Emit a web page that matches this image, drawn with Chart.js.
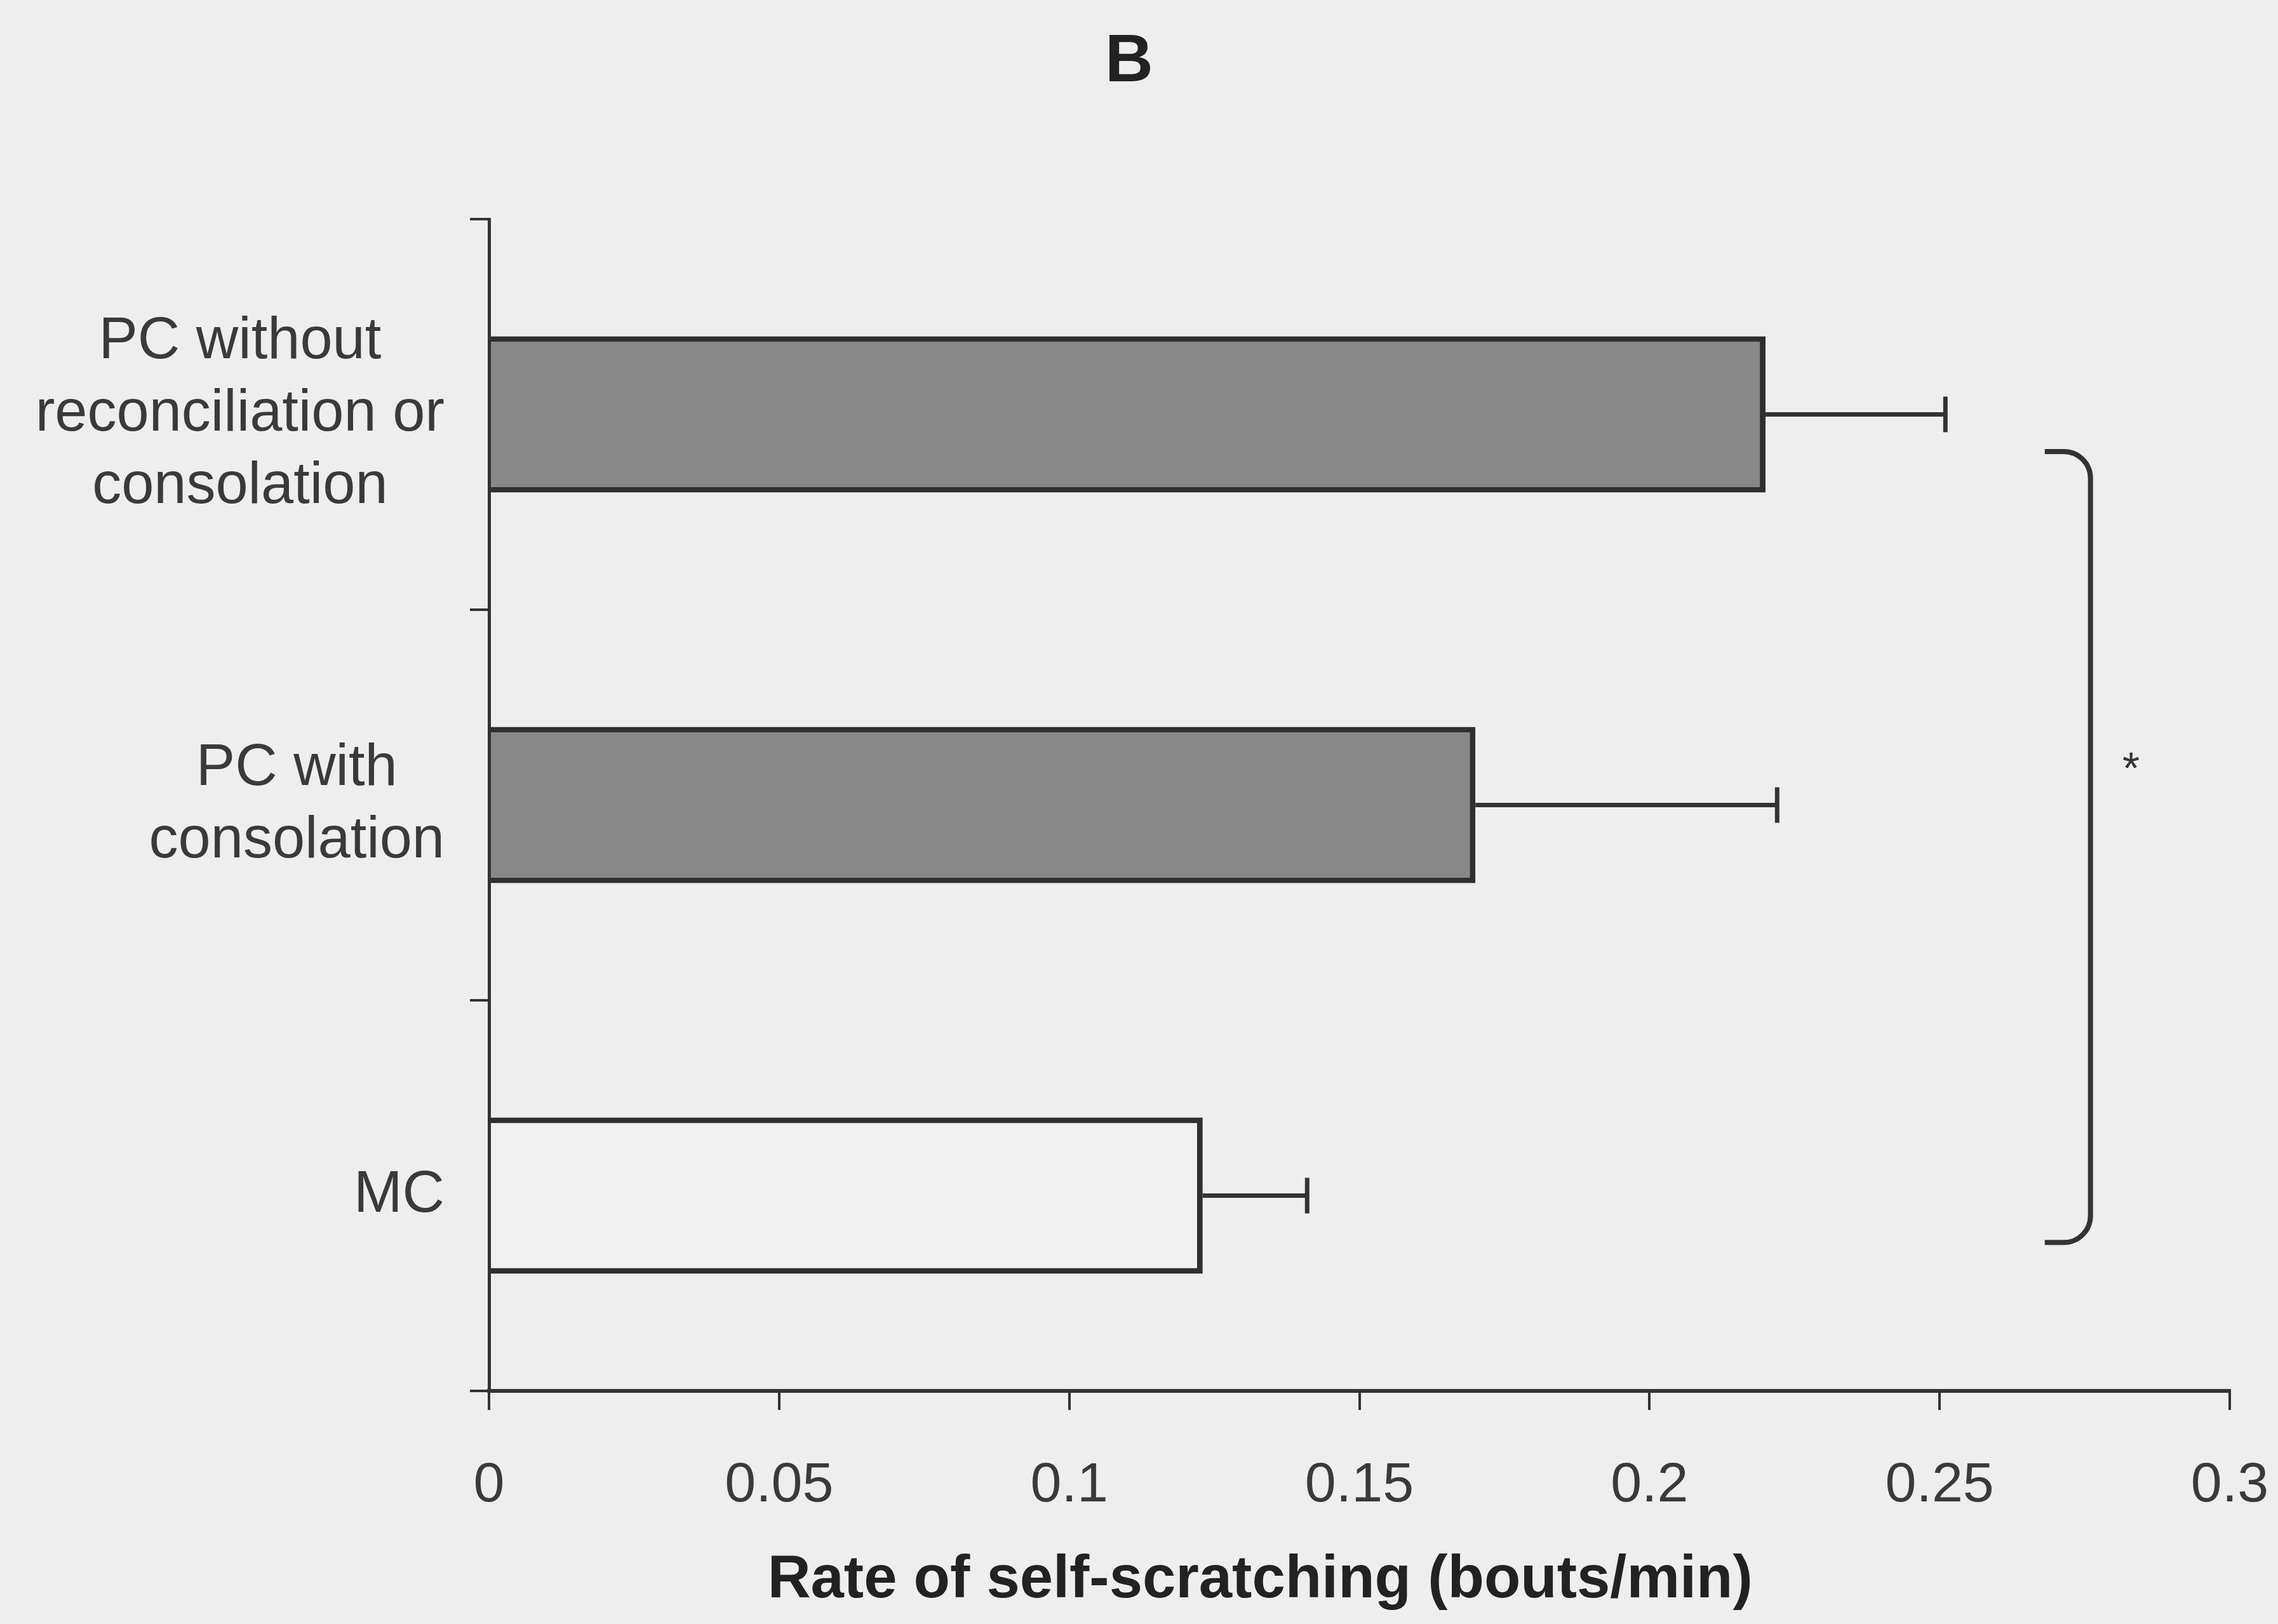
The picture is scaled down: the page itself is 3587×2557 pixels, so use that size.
<!DOCTYPE html>
<html>
<head>
<meta charset="utf-8">
<title>Rate of self-scratching</title>
<script src="https://cdn.jsdelivr.net/npm/chart.js@4.4.1/dist/chart.umd.min.js"></script>
<style>
  html, body { margin: 0; padding: 0; background: #eeeeee; }
  canvas { display: block; }
</style>
</head>
<body>
<canvas id="chart" width="3587" height="2557"></canvas>
<script>
// Post-conflict (PC) and matched-control (MC) observations
const categories = [
  ['PC without', 'reconciliation or', 'consolation'],
  ['PC with', 'consolation'],
  ['MC']
];
const rates = [0.22, 0.17, 0.123];      // mean bouts per minute
const errors = [0.031, 0.052, 0.018];   // upper error bar length
const xMin = 0;
const xMax = 0.3;
const xStep = 0.05;
const xTickLabels = ['0', '0.05', '0.1', '0.15', '0.2', '0.25', '0.3'];
const panelTitle = 'B';
const xAxisTitle = 'Rate of self-scratching (bouts/min)';
// bracket joining the first and last category, marked as significant
const significance = { from: 0, to: 2, x: 0.276, markX: 0.283, mark: '*' };

const FAMILY = '"Liberation Sans", Arial, Helvetica, sans-serif';
const INK = '#333333';
const TEXT = '#3a3a3a';
const PAPER = '#eeeeee';

const paperBackground = {
  id: 'paperBackground',
  beforeDraw(chart) {
    const { ctx, width, height } = chart;
    ctx.save();
    ctx.fillStyle = PAPER;
    ctx.fillRect(0, 0, width, height);
    ctx.restore();
  }
};

// whiskers from the end of each bar
const errorBars = {
  id: 'errorBars',
  afterDatasetsDraw(chart) {
    const { ctx } = chart;
    const xs = chart.scales.x;
    const meta = chart.getDatasetMeta(0);
    ctx.save();
    ctx.strokeStyle = INK;
    ctx.lineWidth = 7;
    meta.data.forEach((bar, i) => {
      const x0 = xs.getPixelForValue(rates[i]);
      const x1 = xs.getPixelForValue(rates[i] + errors[i]);
      const y = bar.y;
      ctx.beginPath();
      ctx.moveTo(x0, y);
      ctx.lineTo(x1, y);
      ctx.stroke();
      ctx.beginPath();
      ctx.moveTo(x1, y - 28);
      ctx.lineTo(x1, y + 28);
      ctx.stroke();
    });
    ctx.restore();
  }
};

// category names: each block right-aligned to the axis, lines centred in the block
const categoryLabels = {
  id: 'categoryLabels',
  afterDraw(chart) {
    const { ctx, chartArea } = chart;
    const ys = chart.scales.y;
    const right = chartArea.left - 70;
    const lineH = 114;
    ctx.save();
    ctx.font = '92px ' + FAMILY;
    ctx.fillStyle = TEXT;
    ctx.textAlign = 'center';
    ctx.textBaseline = 'middle';
    categories.forEach((lines, i) => {
      const widest = Math.max(...lines.map(l => ctx.measureText(l).width));
      const cx = right - widest / 2;
      const cy = ys.getPixelForValue(i);
      lines.forEach((l, k) => {
        ctx.fillText(l, cx, cy + (k - (lines.length - 1) / 2) * lineH);
      });
    });
    ctx.restore();
  }
};

const significanceBracket = {
  id: 'significanceBracket',
  afterDraw(chart) {
    const { ctx } = chart;
    const xs = chart.scales.x;
    const ys = chart.scales.y;
    const band = ys.getPixelForValue(1) - ys.getPixelForValue(0);
    const top = ys.getPixelForValue(significance.from) + 0.095 * band;
    const bottom = ys.getPixelForValue(significance.to) + 0.12 * band;
    const vx = xs.getPixelForValue(significance.x);
    const hook = 72, r = 42;
    ctx.save();
    ctx.strokeStyle = INK;
    ctx.lineWidth = 8;
    ctx.beginPath();
    ctx.moveTo(vx - hook, top);
    ctx.arcTo(vx, top, vx, top + r, r);
    ctx.lineTo(vx, bottom - r);
    ctx.arcTo(vx, bottom, vx - hook, bottom, r);
    ctx.lineTo(vx - hook, bottom);
    ctx.stroke();
    ctx.fillStyle = INK;
    ctx.font = '70px ' + FAMILY;
    ctx.textAlign = 'center';
    ctx.textBaseline = 'alphabetic';
    const midY = (ys.getPixelForValue(significance.from) + ys.getPixelForValue(significance.to)) / 2;
    ctx.fillText(significance.mark, xs.getPixelForValue(significance.markX), midY - 0.12 * band + 40);
    ctx.restore();
  }
};

const axisTitle = {
  id: 'axisTitle',
  afterDraw(chart) {
    const { ctx, chartArea, height } = chart;
    ctx.save();
    ctx.font = 'bold 94px ' + FAMILY;
    ctx.fillStyle = '#222222';
    ctx.textAlign = 'center';
    ctx.textBaseline = 'middle';
    ctx.fillText(xAxisTitle, chartArea.left + 0.443 * (chartArea.right - chartArea.left), height - 68);
    ctx.restore();
  }
};

new Chart(document.getElementById('chart'), {
  type: 'bar',
  data: {
    labels: categories,
    datasets: [{
      data: rates,
      backgroundColor: ['#888888', '#888888', '#f1f1f1'],
      borderColor: '#2f2f2f',
      borderWidth: 9,
      borderSkipped: 'start',
      barPercentage: 0.8,
      categoryPercentage: 0.5
    }]
  },
  options: {
    indexAxis: 'y',
    responsive: false,
    animation: false,
    devicePixelRatio: 1,
    layout: { padding: { left: 45, right: 76, top: 36, bottom: 0 } },
    plugins: {
      legend: { display: false },
      tooltip: { enabled: false },
      title: {
        display: true,
        text: panelTitle,
        color: '#222222',
        font: { family: FAMILY, size: 105, weight: 'bold', lineHeight: 1.2 },
        padding: { top: 0, bottom: 183 }
      }
    },
    scales: {
      x: {
        min: xMin,
        max: xMax,
        ticks: {
          stepSize: xStep,
          color: TEXT,
          font: { family: FAMILY, size: 88 },
          padding: 67,
          maxRotation: 0,
          autoSkip: false,
          callback: (value, index) => xTickLabels[index]
        },
        grid: { drawOnChartArea: false, drawTicks: true, tickLength: 30, color: INK, lineWidth: 4 },
        border: { display: true, color: INK, width: 6 },
        afterFit(scale) {
          scale.height = 367;
          // the end labels fit inside the layout padding
          scale.paddingLeft = 0;
          scale.paddingRight = 0;
        }
      },
      y: {
        ticks: { display: false },
        grid: { drawOnChartArea: false, drawTicks: true, tickLength: 30, color: INK, lineWidth: 4, offset: true },
        border: { display: true, color: INK, width: 5, z: 1 },
        afterFit(scale) { scale.width = 725; }
      }
    }
  },
  plugins: [paperBackground, errorBars, categoryLabels, significanceBracket, axisTitle]
});
</script>
</body>
</html>
